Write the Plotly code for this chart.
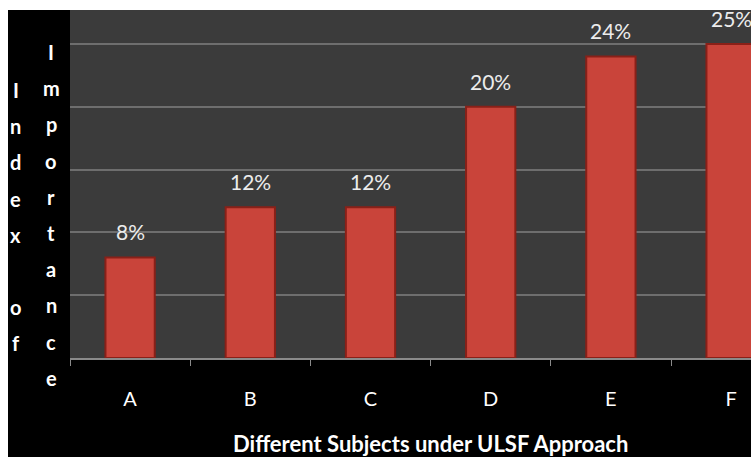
import plotly.graph_objects as go

categories = ["A", "B", "C", "D", "E", "F"]
values = [8, 12, 12, 20, 24, 25]
label_texts = [f"{v}%" for v in values]
y_title_col1 = "Index of"
y_title_col2 = "Importance"
x_title = "Different Subjects under ULSF Approach"

W, H = 751, 457
ML, MR, MT, MB = 70, 0, 10, 99
PW, PH = W - ML - MR, H - MT - MB

FONT = "Lato, 'Open Sans', sans-serif"

fig = go.Figure()
fig.add_trace(go.Bar(
    x=categories, y=values, width=0.41,
    marker=dict(color="#c9443a", line=dict(color="#8a2018", width=2)),
    hoverinfo="skip",
))

annotations = []
for c, v, t in zip(categories, values, label_texts):
    annotations.append(dict(x=c, y=v, xref="x", yref="y", text=t, showarrow=False,
                            yanchor="bottom", yshift=11,
                            font=dict(family=FONT, size=21, color="#ececec")))

# x-axis title (centred on the full, uncropped plot area)
annotations.append(dict(x=(430 - ML) / PW, y=(H - MB - 443) / PH, xref="paper", yref="paper",
                        text=f"<b>{x_title}</b>", showarrow=False, xanchor="center", yanchor="middle",
                        font=dict(family=FONT, size=22, color="#ffffff")))

def px_to_paper(xp, yp):
    return (xp - ML) / PW, (H - MB - yp) / PH

step = 36.2
for col_text, xpix, ystart in [(y_title_col1, 16, 90), (y_title_col2, 51, 52)]:
    for i, ch in enumerate(col_text):
        if ch == " ":
            continue
        xp, yp = px_to_paper(xpix, ystart + i * step)
        annotations.append(dict(x=xp, y=yp, xref="paper", yref="paper", text=f"<b>{ch}</b>",
                                showarrow=False, xanchor="center", yanchor="middle",
                                font=dict(family=FONT, size=20, color="#ffffff")))

# white strips at top and left edges (outside the plot area)
shapes = [
    dict(type="rect", xref="paper", yref="paper", layer="above",
         x0=-ML / PW, x1=1.0, y0=1.0, y1=(PH + MT) / PH,
         fillcolor="#ffffff", line=dict(width=0)),
    dict(type="rect", xref="paper", yref="paper", layer="above",
         x0=-ML / PW, x1=(8 - ML) / PW, y0=-MB / PH, y1=(PH + MT) / PH,
         fillcolor="#ffffff", line=dict(width=0)),
]

fig.update_layout(
    width=W, height=H,
    margin=dict(l=ML, r=MR, t=MT, b=MB, pad=0),
    paper_bgcolor="#000000",
    plot_bgcolor="#3b3b3b",
    showlegend=False,
    annotations=annotations,
    shapes=shapes,
    xaxis=dict(
        type="category", range=[-0.5, -0.5 + PW / 120.2],
        showgrid=False, showline=True, linecolor="#8a8a8a", linewidth=1.5,
        ticks="outside", tickson="boundaries", ticklen=6, tickcolor="#8a8a8a",
        tickfont=dict(family=FONT, size=20, color="#ffffff"),
        ticklabelstandoff=22,
        fixedrange=True,
    ),
    yaxis=dict(
        range=[0, 27.7], dtick=5, showgrid=True, gridcolor="#6e6e6e", gridwidth=2,
        showticklabels=False, zeroline=False, showline=False, ticks="",
        fixedrange=True,
    ),
)

fig.write_html("out.html", config={"displayModeBar": False})
